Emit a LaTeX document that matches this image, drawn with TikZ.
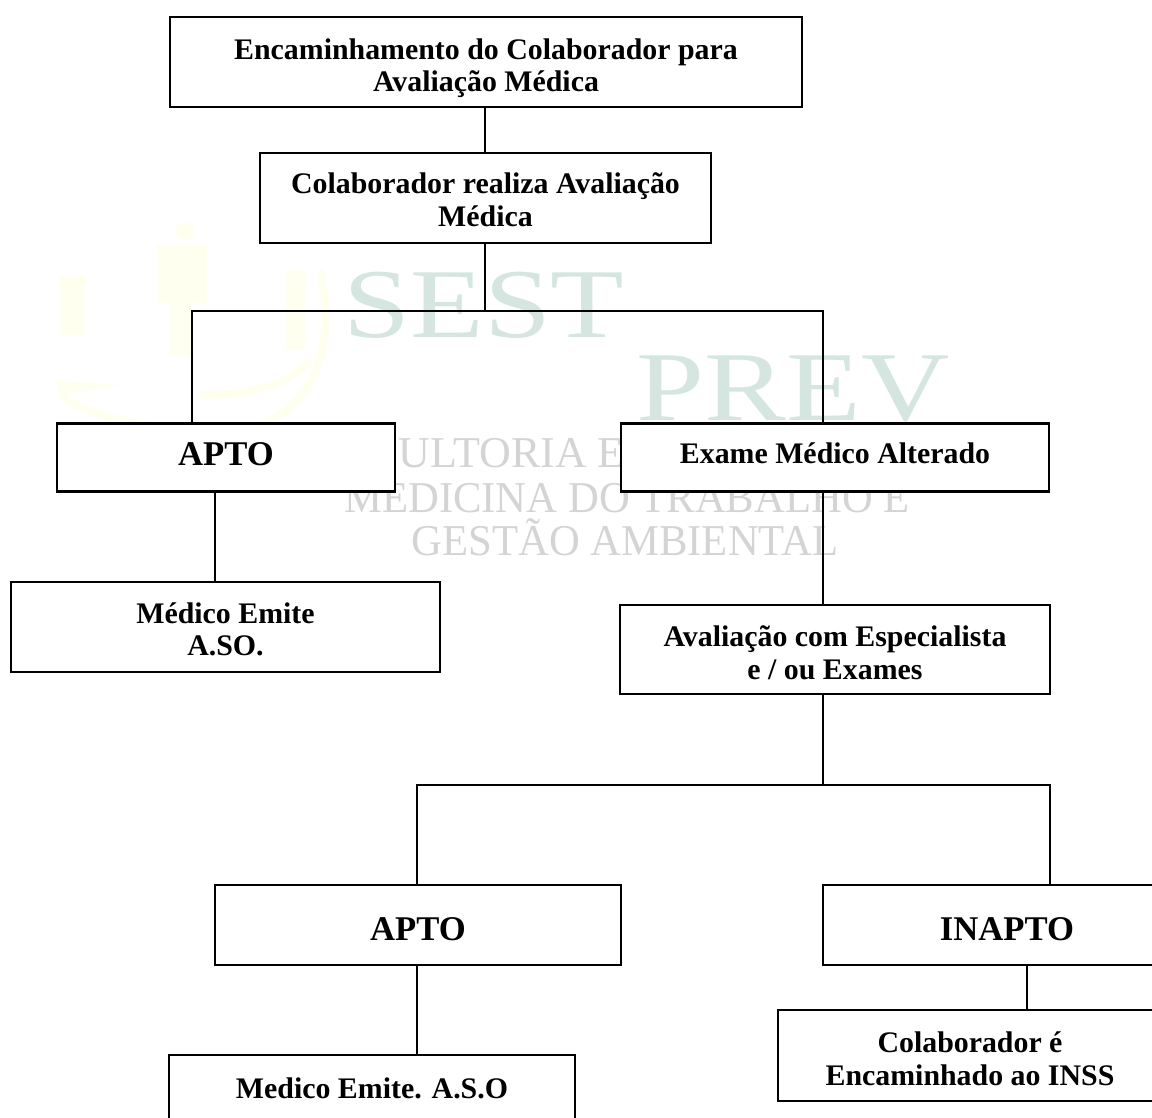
\documentclass[tikz,border=0pt]{standalone}
\usepackage{fontspec}
\setmainfont{Liberation Serif}
\newcommand\lifted[2]{\raisebox{#1}[0pt][0pt]{\begin{tabular}{@{}c@{}}#2\end{tabular}}}
\tikzset{
  flowbox/.style={draw=black,fill=white,line width=1.6pt,inner sep=0pt,outer sep=0pt,font=\bfseries\fontsize{22.4}{24.5}\selectfont},
  bigtext/.style={font=\bfseries\fontsize{26}{30}\selectfont},
  link/.style={draw=black,line width=1.2pt},
  wmgreen/.style={text=wmg,inner sep=0pt,font=\fontsize{74}{80}\selectfont},
  wmgrey/.style={text=wmh,inner sep=0pt,font=\fontsize{33}{40}\selectfont},
  wmfig/.style={fill=wmy,draw=none}
}
\definecolor{wmg}{RGB}{212,230,223}
\definecolor{wmh}{RGB}{212,212,212}
\definecolor{wmy}{RGB}{254,255,238}
\begin{document}
\begin{tikzpicture}[x=0.75pt,y=-0.75pt]
\clip (0,0) rectangle (1152,1117);
\useasboundingbox (0,0) rectangle (1152,1117);
\fill[white] (0,0) rectangle (1152,1117);
% watermark figure
\fill[wmfig] (185,231) ellipse (9 and 9);
\fill[wmfig] (157,245) rectangle (207,303);
\fill[wmfig] (170,303) rectangle (192,355);
\fill[wmfig] (60,275) rectangle (85,335);
\fill[wmfig] (55,380) -- (120,385) -- (60,395) -- cycle;
\fill[wmfig] (285,270) rectangle (305,350);
\draw[wmy,line width=6pt] (320,270) .. controls (335,340) and (320,400) .. (260,425);
\draw[wmy,line width=6pt] (200,395) .. controls (250,395) and (290,385) .. (310,360);
\draw[wmy,line width=6pt] (60,395) .. controls (80,410) and (110,420) .. (150,425);
% watermark text
\node[wmgreen,xscale=1.22,anchor=center] (wm1) at (484,305) {SEST};
\node[wmgreen,xscale=1.24,anchor=center] (wm2) at (793,389) {PREV};
\node[wmgrey,anchor=base east] (wm3) at (625,467) {SULTORIA E};
\node[wmgrey,xscale=.97,anchor=base] (wm4) at (627,512) {MEDICINA DO TRABALHO E};
\node[wmgrey,xscale=.97,anchor=base] (wm5) at (625,555) {GESTÃO AMBIENTAL};
% coordinates
\coordinate (busA) at (485,311);
\coordinate (busAl) at (192,311);
\coordinate (busAr) at (823,311);
\coordinate (busB) at (823,785);
\coordinate (busBl) at (417,785);
\coordinate (busBr) at (1050,785);
\coordinate (xA) at (215,0);
\coordinate (xB) at (823,0);
\coordinate (xC) at (417,0);
\coordinate (xD) at (1027,0);
\coordinate (xE) at (485,0);
% boxes
\node[flowbox,minimum width=474pt,minimum height=67.5pt] (n1) at (486,62) {\lifted{-10.3pt}{Encaminhamento do Colaborador para\\Avaliação Médica}};
\node[flowbox,minimum width=338pt,minimum height=67.5pt] (n2) at (485.5,198) {\lifted{-9.5pt}{Colaborador realiza Avaliação\\Médica}};
\node[flowbox,bigtext,minimum width=253.5pt,minimum height=51pt] (n3) at (226,457.5) {\lifted{-6.5pt}{APTO}};
\node[flowbox,minimum width=321pt,minimum height=51pt] (n4) at (835,457.5) {\lifted{-5pt}{Exame Médico Alterado}};
\node[flowbox,minimum width=322pt,minimum height=67.5pt] (n5) at (225.5,627) {\lifted{-9.7pt}{Médico Emite\\A.SO.}};
\node[flowbox,minimum width=322.5pt,minimum height=67pt] (n6) at (835,649.5) {\lifted{-10.2pt}{Avaliação com Especialista\\e / ou Exames}};
\node[flowbox,bigtext,minimum width=305pt,minimum height=60pt] (n7) at (418,925) {\lifted{-11.5pt}{APTO}};
\node[flowbox,bigtext,minimum width=276pt,minimum height=60pt] (n8) at (1007,925) {\lifted{-11.5pt}{INAPTO}};
\node[flowbox,minimum width=304.5pt,minimum height=69pt] (n9) at (372,1101) {\lifted{-5.2pt}{\raisebox{12pt}{Medico Emite. A.S.O}}};
\node[flowbox,minimum width=288pt,minimum height=68pt] (n10) at (970,1055.5) {\lifted{-10.2pt}{Colaborador é\\Encaminhado ao INSS}};
% connectors
\draw[link] (n1.south -| xE) -- (n2.north -| xE);
\draw[link] (n2.south -| xE) -- (busA);
\draw[flowbox,fill=none] (n3.north -| busAl) -- (busAl) -- (busAr) -- (n4.north -| busAr);
\draw[link] (n3.south -| xA) -- (n5.north -| xA);
\draw[link] (n4.south -| xB) -- (n6.north -| xB);
\draw[link] (n6.south -| xB) -- (busB);
\draw[flowbox,fill=none] (n7.north -| busBl) -- (busBl) -- (busBr) -- (n8.north -| busBr);
\draw[link] (n7.south -| xC) -- (n9.north -| xC);
\draw[link] (n8.south -| xD) -- (n10.north -| xD);
\end{tikzpicture}
\end{document}
